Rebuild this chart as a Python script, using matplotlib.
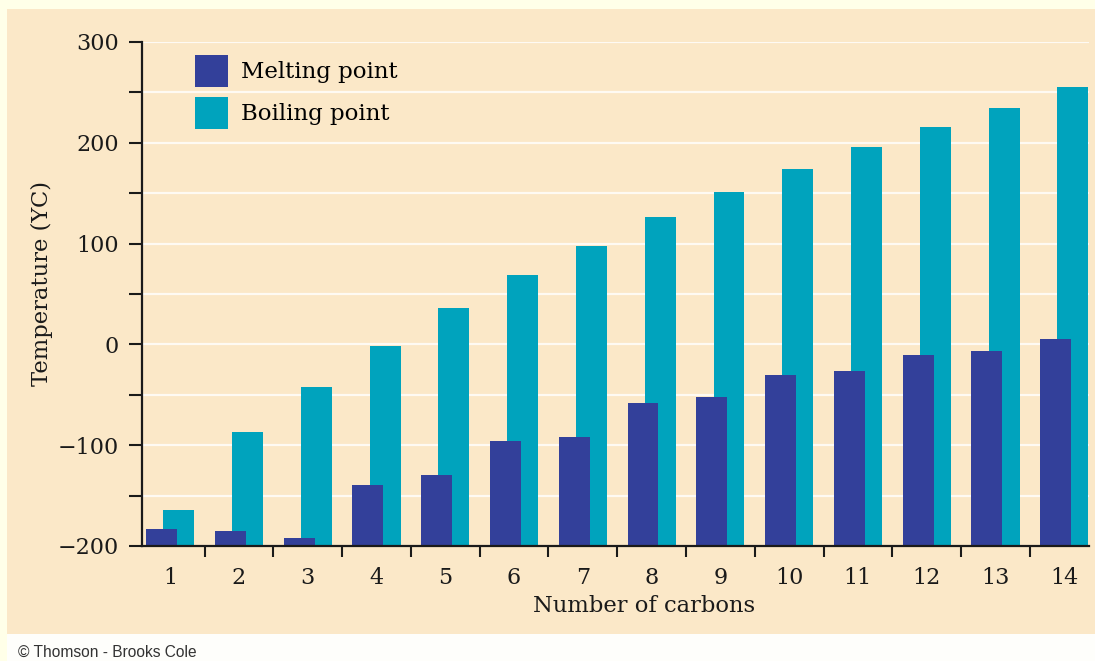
import matplotlib
matplotlib.use("Agg")
import matplotlib.pyplot as plt
from matplotlib.patches import Rectangle
from matplotlib.ticker import MultipleLocator, FixedLocator
import numpy as np

# data
carbons = list(range(1, 15))
melting = [-183, -185, -192, -139, -130, -96, -92, -58, -52, -30, -26, -11, -7, 5]
boiling = [-164, -87, -42, -2, 36, 69, 98, 126, 151, 174, 196, 216, 235, 255]

MELT_C = "#33409a"
BOIL_C = "#00a3bd"
PANEL = "#fbe8c8"
OUTER = "#ffffe8"
INK = "#1a1a1a"

plt.rcParams['font.family'] = ['DejaVu Serif']

W, H = 1095, 661
fig = plt.figure(figsize=(W / 100, H / 100), dpi=100, facecolor=OUTER)

# beige panel and white credit strip
fig.patches.append(Rectangle((7 / W, 1 - 634 / H), 1 - 7 / W, (634 - 9) / H,
                             transform=fig.transFigure, facecolor=PANEL,
                             edgecolor="none", zorder=-10))
fig.patches.append(Rectangle((7 / W, 0), 1 - 7 / W, 1 - 634 / H,
                             transform=fig.transFigure, facecolor="#fefefb",
                             edgecolor="none", zorder=-10))

left, right, top, bottom = 142, 1089, 42, 546
ax = fig.add_axes([left / W, 1 - bottom / H, (right - left) / W, (bottom - top) / H])
ax.set_facecolor("none")

x = np.array(carbons)
ax.bar(x + 0.125, [b + 200 for b in boiling], bottom=-200, width=0.45,
       color=BOIL_C, label="Boiling point", zorder=2)
ax.bar(x - 0.125, [m + 200 for m in melting], bottom=-200, width=0.45,
       color=MELT_C, label="Melting point", zorder=3)

ax.set_xlim(0.59, 14.36)
ax.set_ylim(-200, 300)

# axes styling
for s in ["top", "right"]:
    ax.spines[s].set_visible(False)
for s in ["left", "bottom"]:
    ax.spines[s].set_color(INK)
    ax.spines[s].set_linewidth(1.6)
    ax.spines[s].set_zorder(5)

ax.yaxis.set_major_locator(MultipleLocator(100))
ax.yaxis.set_minor_locator(MultipleLocator(50))
ax.tick_params(axis="y", which="both", direction="out", length=9.5, width=1.5,
               color=INK, labelsize=16, pad=7, labelcolor=INK)
ax.grid(axis="y", which="both", color="white", linewidth=1.6, alpha=0.8, zorder=1)

ax.set_xticks(carbons)
ax.xaxis.set_minor_locator(FixedLocator(np.arange(1.5, 14, 1.0)))
ax.tick_params(axis="x", which="major", length=0, labelsize=16, pad=15,
               labelcolor=INK)
ax.tick_params(axis="x", which="minor", direction="out", length=8, width=1.5,
               color=INK)
ax.set_axisbelow(True)

ax.set_xlabel("Number of carbons", fontsize=16.3, color=INK)
ax.xaxis.set_label_coords((644 - left) / (right - left), -(595 - bottom) / (bottom - top))
ax.set_ylabel("Temperature (YC)", fontsize=16.3, color=INK)
ax.yaxis.set_label_coords(-(142 - 53) / (right - left), (bottom - 283) / (bottom - top))

handles, labels = ax.get_legend_handles_labels()
ax.legend(handles[::-1], labels[::-1], loc="upper left",
          bbox_to_anchor=((195 - left) / (right - left), (bottom - 55) / (bottom - top)),
          frameon=False, fontsize=16.5, borderpad=0, borderaxespad=0,
          handlelength=1.45, handleheight=1.45 / 0.82, handletextpad=0.55,
          labelspacing=0.43)

fig.text(18 / W, 1 - 652 / H, "\u00a9 Thomson - Brooks Cole", fontsize=11.2,
         family="Liberation Sans", color="#333333", va="center", ha="left")

fig.savefig("out.png", dpi=100, facecolor=fig.get_facecolor())
